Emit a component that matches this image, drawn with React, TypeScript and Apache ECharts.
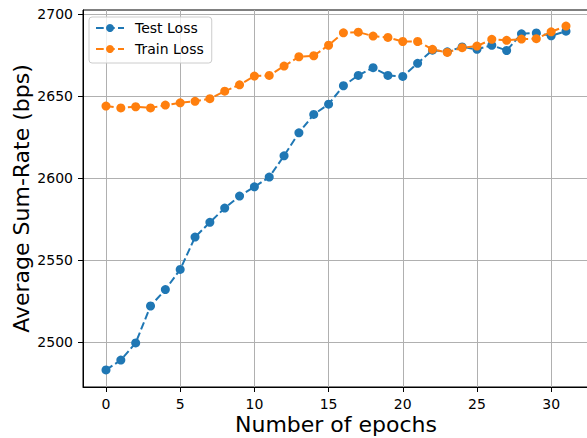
import React, { useEffect, useRef } from "react";
import * as echarts from "echarts";

const epochs = [0,1,2,3,4,5,6,7,8,9,10,11,12,13,14,15,16,17,18,19,20,21,22,23,24,25,26,27,28,29,30,31];
const testLoss = [2483,2489,2499.5,2522,2532,2544.3,2564,2573,2581.7,2589,2594.7,2600.6,2613.6,2627.6,2638.8,2645.1,2656.3,2662.6,2667.3,2662.6,2662,2670,2678,2677,2680,2678.5,2681,2677.8,2688,2688.5,2686.8,2689.6];
const trainLoss = [2643.9,2642.8,2643.5,2642.8,2644.5,2645.9,2646.8,2648.4,2653,2656.9,2662.2,2662.6,2668.3,2674,2674.6,2681,2688.6,2689,2686.6,2685.8,2683.3,2683.3,2678.5,2676.6,2679.5,2680.5,2684.6,2684,2684.8,2685,2689.2,2692.7];
const xTicks = [0,5,10,15,20,25,30];
const yTicks = [2500,2550,2600,2650,2700];

const FONT = "DejaVu Sans";

export default function App() {
  const ref = useRef<HTMLDivElement>(null);
  useEffect(() => {
    if (!ref.current) return;
    const chart = echarts.init(ref.current, null, { renderer: "svg" });
    const dash = [7.7, 3.3];
    chart.setOption({
      animation: false,
      backgroundColor: "#ffffff",
      textStyle: { fontFamily: FONT },
      grid: { left: 83, top: 10, width: 506, bottom: 51, outerBoundsMode: "none", containLabel: false, show: true, borderColor: "#000", borderWidth: 1, backgroundColor: "transparent" },
      legend: {
        left: 89, top: 17, orient: "vertical",
        itemWidth: 28, itemHeight: 10, itemGap: 7,
        padding: [4, 8, 7, 6],
        borderColor: "#cccccc", borderWidth: 1, borderRadius: 3,
        backgroundColor: "rgba(255,255,255,0.8)",
        textStyle: { fontFamily: FONT, fontSize: 14, color: "#000", padding: [0, 0, 0, 6] },
        data: ["Test Loss", "Train Loss"],
      },
      xAxis: {
        type: "value", min: -1.55, max: 32.55,
        name: "Number of epochs", nameLocation: "middle", nameGap: 26, nameMoveOverlap: false,
        nameTextStyle: { fontFamily: FONT, fontSize: 22, lineHeight: 22, color: "#000" },
        axisLine: { show: true, onZero: false, lineStyle: { color: "#000", width: 1 } },
        axisTick: { show: true, length: 5, customValues: xTicks, lineStyle: { color: "#000" } },
        axisLabel: { customValues: xTicks, fontFamily: FONT, fontSize: 14, color: "#000", margin: 10 },
        splitLine: { show: true, lineStyle: { color: "#b0b0b0", width: 1 } },
      },
      yAxis: {
        type: "value", min: 2472.6, max: 2702.5,
        name: "Average Sum-Rate (bps)", nameLocation: "middle", nameGap: 51, nameMoveOverlap: false,
        nameTextStyle: { fontFamily: FONT, fontSize: 22, lineHeight: 22, color: "#000" },
        axisLine: { show: true, onZero: false, lineStyle: { color: "#000", width: 1 } },
        axisTick: { show: true, length: 5, customValues: yTicks, lineStyle: { color: "#000" } },
        axisLabel: { customValues: yTicks, fontFamily: FONT, fontSize: 14, color: "#000", margin: 10, formatter: (v: number) => String(v) },
        splitLine: { show: true, lineStyle: { color: "#b0b0b0", width: 1 } },
      },
      series: [
        {
          name: "Test Loss", type: "line",
          data: epochs.map((e, i) => [e, testLoss[i]]),
          symbol: "circle", symbolSize: 9,
          itemStyle: { color: "#1f77b4" },
          lineStyle: { color: "#1f77b4", width: 2, type: dash },
        },
        {
          name: "Train Loss", type: "line",
          data: epochs.map((e, i) => [e, trainLoss[i]]),
          symbol: "circle", symbolSize: 9,
          itemStyle: { color: "#ff7f0e" },
          lineStyle: { color: "#ff7f0e", width: 2, type: dash },
        },
      ],
    });
    return () => chart.dispose();
  }, []);
  return <div ref={ref} style={{ position: "fixed", left: 0, top: 0, width: 587, height: 438 }} />;
}
